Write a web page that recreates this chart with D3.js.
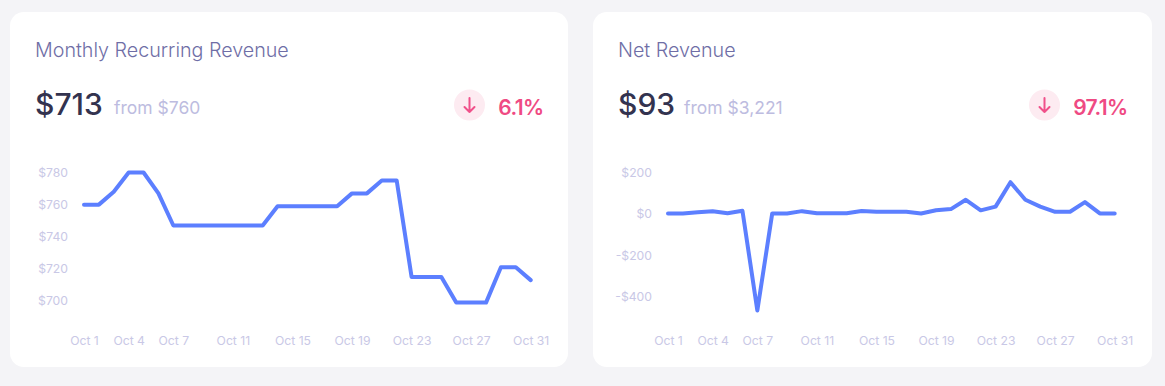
<!DOCTYPE html>
<meta charset="utf-8">
<head>
<style>
html, body { margin: 0; padding: 0; background: #f4f4f7; }
svg { display: block; }
text { font-family: Inter, sans-serif; }
.axis path, .axis line { display: none; }
.axis text { font-family: Inter, sans-serif; font-size: 12.2px; fill: #c9c8e6; }
</style>
</head>
<body>
<script src="https://d3js.org/d3.v7.min.js"></script>
<script>
//Data
var days = d3.range(1, 32);
var xTicks = [1, 4, 7, 11, 15, 19, 23, 27, 31];

var mrrValues = [760, 760, 768, 780, 780, 767, 747, 747, 747, 747, 747, 747, 747, 759, 759, 759, 759, 759, 767, 767, 775, 775, 715, 715, 715, 699, 699, 699, 721, 721, 713];
var mrrTicks = [700, 720, 740, 760, 780];

var netValues = [2, 2, 8, 13, 3, 15, -468, 2, 2, 13, 3, 3, 3, 14, 10, 10, 10, 2, 17, 23, 68, 17, 35, 153, 68, 35, 10, 10, 57, 2, 2];
var netTicks = [-400, -200, 0, 200];

var width = 1165, height = 386;

var svg = d3.select("body").append("svg")
    .attr("width", width)
    .attr("height", height);

function money(v) {
    return (v < 0 ? "-$" : "$") + Math.abs(v);
}

function drawCard(opt) {
    var g = svg.append("g").attr("transform", "translate(" + opt.left + ",12)");

    g.append("rect")
        .attr("width", opt.cardWidth)
        .attr("height", 355)
        .attr("rx", 14)
        .attr("fill", "#fff");

    //Title
    g.append("text")
        .attr("x", 25)
        .attr("y", 45)
        .attr("font-size", 19.7)
        .attr("font-weight", 300)
        .attr("fill", "#6f6ea6")
        .text(opt.title);

    //Big number and the previous one
    g.append("text")
        .attr("x", 25)
        .attr("y", 103)
        .attr("font-size", 30)
        .attr("font-weight", 500)
        .attr("fill", "#33334f")
        .text(opt.value);

    g.append("text")
        .attr("x", opt.fromX)
        .attr("y", 102)
        .attr("font-size", 17.5)
        .attr("font-weight", 400)
        .attr("fill", "#bdbce0")
        .text(opt.from);

    //Change badge
    g.append("circle")
        .attr("cx", opt.badgeX)
        .attr("cy", 93)
        .attr("r", 15.5)
        .attr("fill", "#fdebf1");

    g.append("path")
        .attr("d", "M" + opt.badgeX + " 86V100M" + (opt.badgeX - 5) + " 95L" + opt.badgeX + " 100L" + (opt.badgeX + 5) + " 95")
        .attr("fill", "none")
        .attr("stroke", "#f0508a")
        .attr("stroke-width", 2)
        .attr("stroke-linecap", "round")
        .attr("stroke-linejoin", "round");

    g.append("text")
        .attr("x", opt.cardWidth - 24.5)
        .attr("y", 103)
        .attr("text-anchor", "end")
        .attr("font-size", 21)
        .attr("font-weight", 600)
        .attr("letter-spacing", -0.6)
        .attr("fill", "#ef4a83")
        .text(opt.change);

    //Scales
    var x = d3.scalePoint().domain(days).range([opt.x0, opt.x1]);
    var y = d3.scaleLinear().domain(opt.yDomain).range(opt.yRange);

    //Axes
    g.append("g")
        .attr("class", "axis")
        .attr("transform", "translate(0,329)")
        .call(d3.axisBottom(x)
            .tickValues(xTicks)
            .tickSize(0)
            .tickPadding(0)
            .tickFormat(function(d) { return "Oct " + d; }))
        .selectAll("text")
        .attr("dy", "0.32em")
        .attr("y", 0);

    g.append("g")
        .attr("class", "axis")
        .attr("transform", "translate(" + opt.yAxisX + ",0)")
        .call(d3.axisLeft(y)
            .tickValues(opt.yTicks)
            .tickSize(0)
            .tickPadding(0)
            .tickFormat(money));

    //Line
    var line = d3.line()
        .x(function(d, i) { return x(days[i]); })
        .y(function(d) { return y(d); });

    g.append("path")
        .datum(opt.values)
        .attr("fill", "none")
        .attr("stroke", "#5c7fff")
        .attr("stroke-width", 4)
        .attr("stroke-linejoin", "round")
        .attr("stroke-linecap", "round")
        .attr("d", line);
}

drawCard({
    left: 10, cardWidth: 558,
    title: "Monthly Recurring Revenue",
    value: "$713", from: "from $760", change: "6.1%",
    fromX: 104,
    badgeX: 459.5,
    values: mrrValues, yTicks: mrrTicks,
    yDomain: [700, 780], yRange: [289, 160.5],
    x0: 74, x1: 520.7, yAxisX: 58
});

drawCard({
    left: 593, cardWidth: 559,
    title: "Net Revenue",
    value: "$93", from: "from $3,221", change: "97.1%",
    fromX: 91,
    badgeX: 451.5,
    values: netValues, yTicks: netTicks,
    yDomain: [-400, 200], yRange: [284.5, 160.5],
    x0: 75, x1: 521.7, yAxisX: 59
});
</script>
</body>
